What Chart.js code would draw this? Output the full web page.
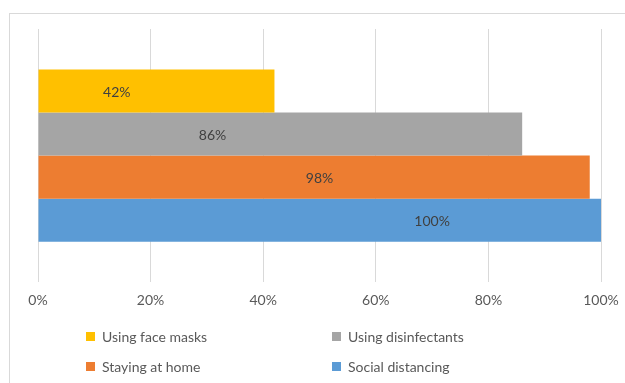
<!DOCTYPE html>
<html>
<head>
<meta charset="utf-8">
<script src="https://cdn.jsdelivr.net/npm/chart.js@4/dist/chart.umd.min.js"></script>
<style>
  html, body { margin: 0; padding: 0; background: #fff; }
  #wrap { position: relative; width: 625px; height: 383px; }
  #legend { position: absolute; left: 86px; top: 327px; width: 400px; font-family: Lato, "Liberation Sans", sans-serif; font-size: 14px; color: #595959; }
  #legend .item { position: absolute; white-space: nowrap; display: flex; align-items: center; height: 18px; }
  #legend .box { width: 9px; height: 9px; margin-right: 7px; }
</style>
</head>
<body>
<div id="wrap">
  <canvas id="chartMesures" width="625" height="383"></canvas>
  <div id="legend"></div>
</div>
<script>
// données
var categories = ['Mesures'];
var seriesLabels = ['Using face masks', 'Using disinfectants', 'Staying at home', 'Social distancing'];
var seriesValues = [42, 86, 98, 100];
var seriesColors = ['#ffc000', '#a5a5a5', '#ed7d31', '#5b9bd5'];
var xTicks = [0, 20, 40, 60, 80, 100];

// cadre gris clair autour du graphique
var cadrePlugin = {
  id: 'cadre',
  beforeDraw: function (chart) {
    var ctx = chart.ctx;
    ctx.save();
    ctx.strokeStyle = '#d9d9d9';
    ctx.lineWidth = 1;
    ctx.strokeRect(9.5, 13.5, 700, 500);
    ctx.restore();
  }
};

// étiquettes de valeur dans les barres (position en % de l'axe, comme dans l'image)
var etiquettesPlugin = {
  id: 'etiquettes',
  afterDatasetsDraw: function (chart, args, opts) {
    var ctx = chart.ctx;
    var xScale = chart.scales.x;
    ctx.save();
    ctx.font = '14px Lato, "Liberation Sans", sans-serif';
    ctx.fillStyle = '#404040';
    ctx.textAlign = 'center';
    ctx.textBaseline = 'middle';
    chart.data.datasets.forEach(function (ds, i) {
      var bar = chart.getDatasetMeta(i).data[0];
      var x = xScale.getPixelForValue(opts.positions[i]);
      ctx.fillText(ds.data[0] + '%', x, bar.y + 1);
    });
    ctx.restore();
  }
};

var datasets = seriesLabels.map(function (l, i) {
  return {
    label: l,
    data: [seriesValues[i]],
    backgroundColor: seriesColors[i],
    barPercentage: 1,
    categoryPercentage: 0.68
  };
});

var ctx = document.getElementById('chartMesures').getContext('2d');
var chart = new Chart(ctx, {
  type: 'bar',
  data: { labels: categories, datasets: datasets },
  options: {
    responsive: false,
    animation: false,
    indexAxis: 'y',
    layout: { padding: { left: 38, right: 24, top: 29, bottom: 64 } },
    plugins: {
      legend: { display: false },
      tooltip: { enabled: false },
      etiquettes: { positions: [14, 31, 50, 70] }
    },
    scales: {
      y: { display: false },
      x: {
        min: 0,
        max: 100,
        afterBuildTicks: function (axis) {
          axis.ticks = xTicks.map(function (v) { return { value: v }; });
        },
        afterFit: function (axis) {
          axis.paddingLeft = 0;
          axis.paddingRight = 0;
        },
        grid: { color: '#d9d9d9', drawTicks: false },
        border: { display: false },
        ticks: {
          padding: 10,
          color: '#595959',
          font: { family: 'Lato, "Liberation Sans", sans-serif', size: 14 },
          callback: function (v) { return v + '%'; }
        }
      }
    }
  },
  plugins: [cadrePlugin, etiquettesPlugin]
});

// --- légende HTML sur deux colonnes ---
var legend = document.getElementById('legend');
seriesLabels.forEach(function (l, i) {
  var item = document.createElement('div');
  item.className = 'item';
  item.style.left = (i % 2 === 0 ? 0 : 246) + 'px';
  item.style.top = (Math.floor(i / 2) * 30) + 'px';
  item.innerHTML = '<span class="box" style="background:' + seriesColors[i] + '"></span>' + l;
  legend.appendChild(item);
});
</script>
</body>
</html>
